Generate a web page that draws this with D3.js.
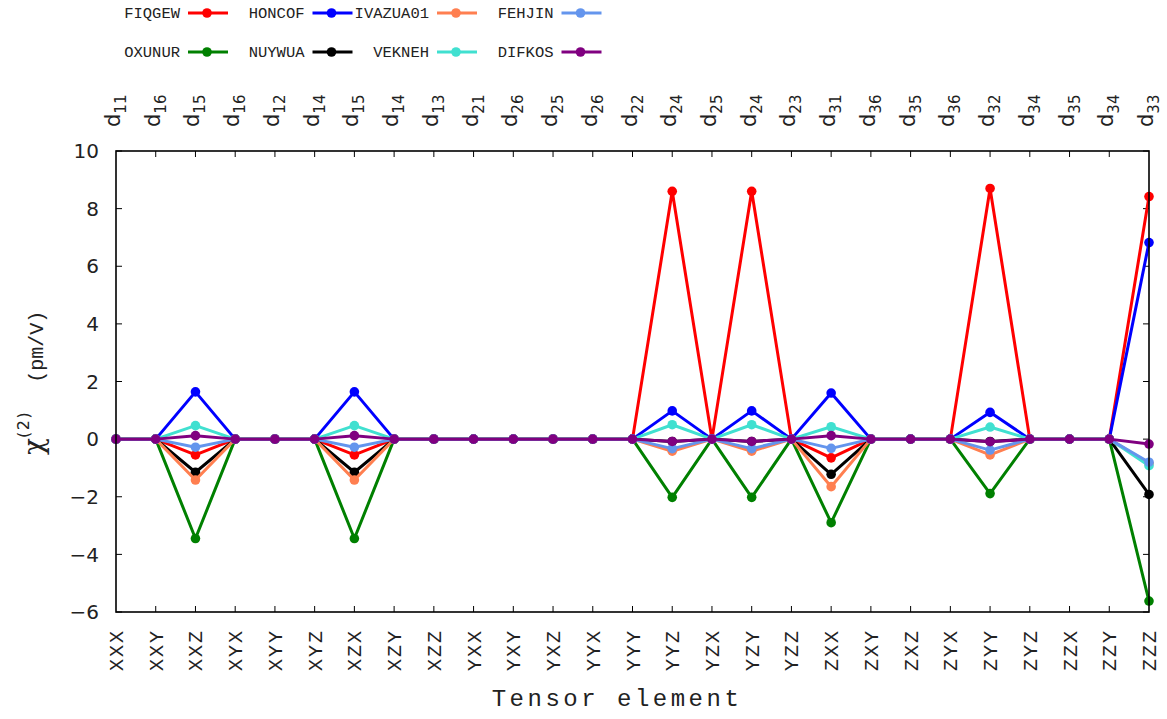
<!DOCTYPE html>
<html>
<head>
<meta charset="utf-8">
<script src="https://cdn.jsdelivr.net/npm/d3@7"></script>
<style>
  body { margin: 0; background: #fff; }
  svg { display: block; }
</style>
</head>
<body>
<svg id="chart" width="1167" height="719"></svg>
<script>
// tensor elements (bottom axis) and matching d_ij labels (top axis)
var elements = ["XXX", "XXY", "XXZ", "XYX", "XYY", "XYZ", "XZX", "XZY", "XZZ",
    "YXX", "YXY", "YXZ", "YYX", "YYY", "YYZ", "YZX", "YZY", "YZZ",
    "ZXX", "ZXY", "ZXZ", "ZYX", "ZYY", "ZYZ", "ZZX", "ZZY", "ZZZ"];
var dLabels = ["11", "16", "15", "16", "12", "14", "15", "14", "13",
    "21", "26", "25", "26", "22", "24", "25", "24", "23",
    "31", "36", "35", "36", "32", "34", "35", "34", "33"];
var yTicks = [-6, -4, -2, 0, 2, 4, 6, 8, 10];

// chi(2) values, pm/V, one per tensor element
var FIQGEW   = [0, 0, -0.55, 0, 0, 0, -0.55, 0, 0, 0, 0, 0, 0, 0, 8.6, 0, 8.6, 0, -0.65, 0, 0, 0, 8.7, 0, 0, 0, 8.42];
var OXUNUR   = [0, 0, -3.45, 0, 0, 0, -3.45, 0, 0, 0, 0, 0, 0, 0, -2.02, 0, -2.02, 0, -2.9, 0, 0, 0, -1.89, 0, 0, 0, -5.62];
var HONCOF   = [0, 0, 1.64, 0, 0, 0, 1.64, 0, 0, 0, 0, 0, 0, 0, 0.98, 0, 0.98, 0, 1.6, 0, 0, 0, 0.93, 0, 0, 0, 6.82];
var NUYWUA   = [0, 0, -1.15, 0, 0, 0, -1.15, 0, 0, 0, 0, 0, 0, 0, -0.08, 0, -0.08, 0, -1.22, 0, 0, 0, -0.08, 0, 0, 0, -1.92];
var IVAZUA01 = [0, 0, -1.42, 0, 0, 0, -1.42, 0, 0, 0, 0, 0, 0, 0, -0.42, 0, -0.42, 0, -1.65, 0, 0, 0, -0.55, 0, 0, 0, -0.85];
var VEKNEH   = [0, 0, 0.47, 0, 0, 0, 0.47, 0, 0, 0, 0, 0, 0, 0, 0.5, 0, 0.5, 0, 0.43, 0, 0, 0, 0.42, 0, 0, 0, -0.92];
var FEHJIN   = [0, 0, -0.28, 0, 0, 0, -0.28, 0, 0, 0, 0, 0, 0, 0, -0.33, 0, -0.33, 0, -0.32, 0, 0, 0, -0.38, 0, 0, 0, -0.8];
var DIFKOS   = [0, 0, 0.12, 0, 0, 0, 0.12, 0, 0, 0, 0, 0, 0, 0, -0.08, 0, -0.08, 0, 0.12, 0, 0, 0, -0.09, 0, 0, 0, -0.17];

// drawn in this order, later ones on top
var series = [
    {name: "FIQGEW", values: FIQGEW, color: "#ff0000"},
    {name: "OXUNUR", values: OXUNUR, color: "#008000"},
    {name: "HONCOF", values: HONCOF, color: "#0000ff"},
    {name: "NUYWUA", values: NUYWUA, color: "#000000"},
    {name: "IVAZUA01", values: IVAZUA01, color: "#ff7f50"},
    {name: "VEKNEH", values: VEKNEH, color: "#40e0d0"},
    {name: "FEHJIN", values: FEHJIN, color: "#6495ed"},
    {name: "DIFKOS", values: DIFKOS, color: "#800080"}
];
// legend grid: [series name, column, row]
var legendOrder = [["FIQGEW", 0, 0], ["HONCOF", 1, 0], ["IVAZUA01", 2, 0], ["FEHJIN", 3, 0],
    ["OXUNUR", 0, 1], ["NUYWUA", 1, 1], ["VEKNEH", 2, 1], ["DIFKOS", 3, 1]];

function drawChart() {
    var svg = d3.select("#chart");
    var pLeft = 116, pRight = 1149, pTop = 151, pBottom = 612;
    var mono = "'Liberation Mono', 'DejaVu Sans Mono', monospace";
    var sans = "'DejaVu Sans', 'Liberation Sans', sans-serif";

    var x = d3.scalePoint().domain(d3.range(elements.length)).range([pLeft, pRight]);
    var y = d3.scaleLinear().domain([-6, 10]).range([pBottom, pTop]);

    // ticks (inward, mirrored)
    var axisG = svg.append("g").attr("stroke", "#000").attr("stroke-width", 1);
    d3.range(1, elements.length - 1).forEach(function (i) {
        axisG.append("line").attr("x1", x(i)).attr("x2", x(i)).attr("y1", pBottom).attr("y2", pBottom - 6);
        axisG.append("line").attr("x1", x(i)).attr("x2", x(i)).attr("y1", pTop).attr("y2", pTop + 6);
    });
    yTicks.forEach(function (t) {
        axisG.append("line").attr("x1", pLeft).attr("x2", pLeft + 6).attr("y1", y(t)).attr("y2", y(t));
        axisG.append("line").attr("x1", pRight).attr("x2", pRight - 6).attr("y1", y(t)).attr("y2", y(t));
    });

    // y tick labels
    svg.append("g").selectAll("text").data(yTicks).enter().append("text")
        .attr("x", pLeft - 17).attr("y", function (d) { return y(d); })
        .attr("dy", "0.36em").attr("text-anchor", "end")
        .attr("font-family", sans).attr("font-size", 20).attr("fill", "#222")
        .text(function (d) { return d < 0 ? "\u2212" + Math.abs(d) : d; });

    // bottom labels (rotated)
    svg.append("g").selectAll("text").data(elements).enter().append("text")
        .attr("transform", function (d, i) { return "translate(" + (x(i) + 7) + ",629) rotate(-90)"; })
        .attr("text-anchor", "end").attr("font-family", mono).attr("font-size", 20)
        .attr("letter-spacing", 2).attr("fill", "#222")
        .text(function (d) { return d; });

    // top d_ij labels
    var dt = svg.append("g").selectAll("text").data(dLabels).enter().append("text")
        .attr("transform", function (d, i) { return "translate(" + (x(i) + 4) + ",127) rotate(-90)"; })
        .attr("text-anchor", "start").attr("font-family", sans).attr("fill", "#222");
    dt.append("tspan").attr("font-size", 21).text("d");
    dt.append("tspan").attr("font-size", 15).attr("dy", 6).text(function (d) { return d; });

    // axis titles
    svg.append("text").attr("x", 617).attr("y", 706).attr("text-anchor", "middle")
        .attr("font-family", mono).attr("font-size", 24).attr("letter-spacing", 3.5)
        .attr("fill", "#222").text("Tensor element");
    var yl = svg.append("text").attr("transform", "translate(43,455) rotate(-90)")
        .attr("fill", "#222");
    yl.append("tspan").attr("font-family", "'DejaVu Serif', serif").attr("font-size", 28).text("\u03c7");
    yl.append("tspan").attr("font-family", sans).attr("font-size", 16).attr("dy", -14)
        .attr("letter-spacing", 1.5).text("(2)");
    yl.append("tspan").attr("font-family", mono).attr("font-size", 20).attr("dy", 14).attr("dx", 28).text("(pm/V)");

    // series
    var line = d3.line().x(function (d, i) { return x(i); }).y(function (d) { return y(d); });
    series.forEach(function (s) {
        var g = svg.append("g");
        g.append("path").attr("d", line(s.values)).attr("fill", "none")
            .attr("stroke", s.color).attr("stroke-width", 3).attr("stroke-linejoin", "round");
        g.selectAll("circle").data(s.values).enter().append("circle")
            .attr("cx", function (d, i) { return x(i); }).attr("cy", function (d) { return y(d); })
            .attr("r", 4.8).attr("fill", s.color);
    });

    // frame
    svg.append("rect").attr("x", pLeft).attr("y", pTop).attr("width", pRight - pLeft).attr("height", pBottom - pTop)
        .attr("fill", "none").attr("stroke", "#000").attr("stroke-width", 1.6);

    // legend
    var colMap = {};
    series.forEach(function (s) { colMap[s.name] = s.color; });
    legendOrder.forEach(function (e) {
        var lx = 180 + e[1] * 124.5, ly = e[2] === 0 ? 13 : 52;
        var g = svg.append("g");
        g.append("text").attr("x", lx).attr("y", ly).attr("dy", "0.35em").attr("text-anchor", "end")
            .attr("font-family", mono).attr("font-size", 15.5).attr("fill", "#222").text(e[0]);
        g.append("line").attr("x1", lx + 8).attr("x2", lx + 48).attr("y1", ly).attr("y2", ly)
            .attr("stroke", colMap[e[0]]).attr("stroke-width", 3);
        g.append("circle").attr("cx", lx + 27).attr("cy", ly).attr("r", 4.8).attr("fill", colMap[e[0]]);
    });
}
drawChart();
</script>
</body>
</html>
